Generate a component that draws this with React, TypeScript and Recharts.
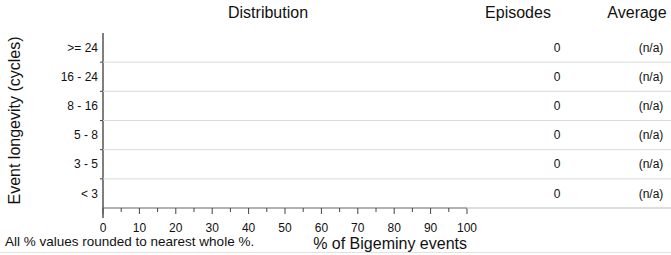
import { Bar, BarChart, XAxis, YAxis } from "recharts";

const ranges = [">= 24", "16 - 24", "8 - 16", "5 - 8", "3 - 5", "< 3"];
const percents = [0, 0, 0, 0, 0, 0];
const episodes = [0, 0, 0, 0, 0, 0];
const averages = ["(n/a)", "(n/a)", "(n/a)", "(n/a)", "(n/a)", "(n/a)"];
const xTicks = [0, 5, 10, 15, 20, 25, 30, 35, 40, 45, 50, 55, 60, 65, 70, 75, 80, 85, 90, 95, 100];

const data = ranges.map((range, i) => ({ range, pct: percents[i] }));

const W = 671;
const H = 255;
const PLOT_TOP = 33;
const PLOT_RIGHT = 467;
const X_AXIS_H = 47;
const BAND = (H - PLOT_TOP - X_AXIS_H) / ranges.length;
const EPISODES_X = 557;
const AVERAGE_X = 651;
const FONT = "'Liberation Sans', Arial, sans-serif";

function XTick({ x, y, payload }: any) {
  const major = payload.value % 10 === 0;
  return (
    <g>
      <line x1={x} x2={x} y1={y} y2={y + (major ? 6 : 4)} stroke="#444" strokeWidth={1} />
      {major && (
        <text x={x} y={y + 24} textAnchor="middle" fontSize={12} fill="#111" fontFamily={FONT}>
          {payload.value}
        </text>
      )}
    </g>
  );
}

function RowTick({ x, y, payload }: any) {
  const i = ranges.indexOf(payload.value);
  const last = i === ranges.length - 1;
  const yb = y + BAND / 2; // bottom edge of this row
  return (
    <g>
      {!last && <line x1={x} x2={W} y1={yb} y2={yb} stroke="#dadada" />}
      {!last && <line x1={x - 3} x2={x} y1={yb} y2={yb} stroke="#444" />}
      {last && <line x1={PLOT_RIGHT} x2={W} y1={yb} y2={yb} stroke="#d2d2d2" strokeWidth={1.5} />}
      {last && <line x1={x} x2={x} y1={yb} y2={yb + 10} stroke="#555" strokeWidth={1.5} />}
      <g fontFamily={FONT} fontSize={12} fill="#111">
        <text x={x - 5} y={y} dy="0.35em" textAnchor="end">
          {ranges[i]}
        </text>
        <text x={EPISODES_X} y={y} dy="0.35em" textAnchor="middle">
          {episodes[i]}
        </text>
        <text x={AVERAGE_X} y={y} dy="0.35em" textAnchor="middle">
          {averages[i]}
        </text>
      </g>
    </g>
  );
}

export default function App() {
  return (
    <div style={{ position: "absolute", left: 0, top: 0, width: W, height: H, background: "#fff", fontFamily: FONT, color: "#111" }}>
      <BarChart width={W} height={H} data={data} layout="vertical" margin={{ top: PLOT_TOP, right: W - PLOT_RIGHT, bottom: 0, left: 0 }}>
        <XAxis
          type="number"
          domain={[0, 100]}
          ticks={xTicks}
          interval={0}
          height={X_AXIS_H}
          tickSize={0}
          tickMargin={0}
          tick={<XTick />}
          axisLine={{ stroke: "#999", strokeWidth: 1.5 }}
          label={{ value: "% of Bigeminy events", position: "insideBottomRight", offset: 6, dx: 6, fontSize: 16, fill: "#111", fontFamily: FONT }}
        />
        <YAxis
          type="category"
          dataKey="range"
          interval={0}
          width={103}
          tickSize={0}
          tickMargin={0}
          tick={<RowTick />}
          axisLine={{ stroke: "#555", strokeWidth: 1.5 }}
          label={{ value: "Event longevity (cycles)", angle: -90, position: "insideLeft", offset: 14, style: { textAnchor: "middle" }, fontSize: 16, fill: "#111", fontFamily: FONT }}
        />
        <Bar dataKey="pct" fill="#4f81bd" isAnimationActive={false} />
      </BarChart>
      <div style={{ position: "absolute", left: 228, top: 4, fontSize: 16 }}>Distribution</div>
      <div style={{ position: "absolute", left: 481, top: 4, width: 74, textAlign: "center", fontSize: 16 }}>Episodes</div>
      <div style={{ position: "absolute", left: 602, top: 4, width: 70, textAlign: "center", fontSize: 16 }}>Average</div>
      <div style={{ position: "absolute", left: 5, top: 235, fontSize: 13.5, lineHeight: 1 }}>All % values rounded to nearest whole %.</div>
      <div style={{ position: "absolute", left: 0, top: 252, width: W, height: 1, background: "#e2e2e2" }} />
    </div>
  );
}
